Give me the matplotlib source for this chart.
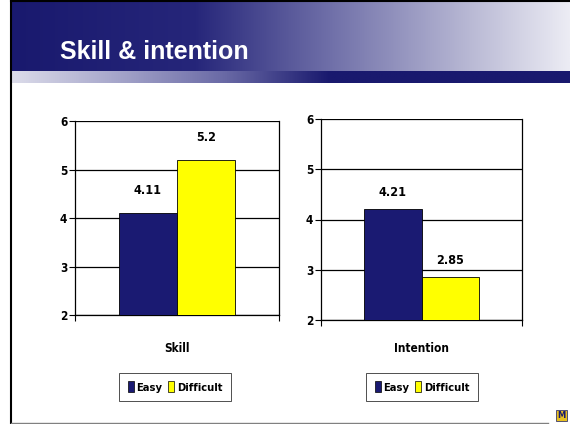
import numpy as np
import matplotlib
matplotlib.use("Agg")
import matplotlib.pyplot as plt
from matplotlib.colors import LinearSegmentedColormap
from matplotlib.patches import Rectangle, Patch
from matplotlib.font_manager import FontProperties, fontManager

# data
groups = ["Easy", "Difficult"]
skill = [4.11, 5.2]
intention = [4.21, 2.85]
bar_colors = ["#1a1a72", "#ffff00"]

W, H = 570, 424

names = {f.name for f in fontManager.ttflist}
if "Liberation Sans Narrow" in names:
    NARROW = dict(family="Liberation Sans Narrow", weight="bold")
else:
    NARROW = dict(family="DejaVu Sans", weight="bold", stretch="condensed")


def fp(size):
    return FontProperties(size=size, **NARROW)


fig = plt.figure(figsize=(W / 100, H / 100), dpi=100)
fig.patch.set_facecolor("white")

# background / slide decoration
bg = fig.add_axes([0, 0, 1, 1])
bg.set_xlim(0, W)
bg.set_ylim(H, 0)
bg.axis("off")

cmap_bar = LinearSegmentedColormap.from_list(
    "bar", [(0, "#19196e"), (0.33, "#26267a"), (0.58, "#7272aa"), (0.82, "#b8b8d4"), (1, "#ececf4")])
grad = np.linspace(0, 1, 256).reshape(1, -1)
bg.imshow(grad, cmap=cmap_bar, extent=(11, W, 71, 2), aspect="auto")
cmap_strip = LinearSegmentedColormap.from_list(
    "strip", [(0, "#dcdcea"), (0.18, "#a8a8cc"), (0.38, "#6a6aa6"), (0.57, "#19196e"), (1, "#19196e")])
bg.imshow(grad, cmap=cmap_strip, extent=(11, W, 83, 71), aspect="auto")
bg.plot([10.5, 10.5], [0, H], color="black", lw=1.5)
bg.plot([11, W], [1, 1], color="black", lw=1.5)
bg.plot([11, 548], [422.5, 422.5], color="#808080", lw=1)
bg.add_patch(Rectangle((556, 410), 11, 11, facecolor="#e8c020", edgecolor="#3a3a6a", lw=0.6))
bg.text(561.5, 416, "M", color="#1a1a6e", fontsize=6, fontweight="bold", ha="center", va="center")
bg.text(60, 52, "Skill & intention", color="white", fontsize=18, fontweight="bold",
        ha="left", va="center", family="Liberation Sans")


def panel(rect, values, label, label_y, leg_center, lab_off):
    x0, y0, x1, y1 = rect
    ax = fig.add_axes([x0 / W, 1 - y1 / H, (x1 - x0) / W, (y1 - y0) / H])
    xs = np.array([-0.5, 0.5])
    ax.bar(xs, np.array(values) - 2, bottom=2, width=1.0, color=bar_colors,
           edgecolor="black", linewidth=0.6, zorder=3)
    for x, v in zip(xs, values):
        ax.text(x, v + lab_off, f"{v:g}", ha="center", va="center", fontproperties=fp(9))
    ax.set_xlim(-1.75, 1.75)
    ax.set_ylim(2, 6)
    ax.set_yticks([2, 3, 4, 5, 6])
    ax.set_yticklabels(["2", "3", "4", "5", "6"], fontproperties=fp(8.5))
    ax.yaxis.grid(True, color="black", lw=0.9, zorder=1)
    ax.set_xticks([-1.75, 1.75])
    ax.set_xticklabels([])
    ax.tick_params(axis="x", length=4, direction="out", width=0.8)
    ax.tick_params(axis="y", length=4, direction="out", width=0.8, pad=1.5)
    for s in ax.spines.values():
        s.set_linewidth(0.9)
    ax.spines["top"].set_visible(False)
    bg.text((x0 + x1) / 2, label_y, label, ha="center", va="center", fontproperties=fp(8.5))
    handles = [Patch(facecolor=c, edgecolor="black", linewidth=0.5) for c in bar_colors]
    leg = fig.legend(handles, groups, loc="center", ncol=2,
                     bbox_to_anchor=(leg_center[0] / W, 1 - leg_center[1] / H),
                     prop=fp(8),
                     frameon=True, fancybox=False, edgecolor="black",
                     handlelength=0.55, handleheight=1.1, handletextpad=0.25,
                     columnspacing=0.5, borderpad=0.75, borderaxespad=0)
    leg.get_frame().set_linewidth(0.6)
    return ax


panel((75, 121, 279, 315), skill, "Skill", 349, (175, 387), 0.45)
panel((321, 119, 522, 320), intention, "Intention", 349, (422, 387), 0.33)

fig.savefig("out.png", dpi=100)
